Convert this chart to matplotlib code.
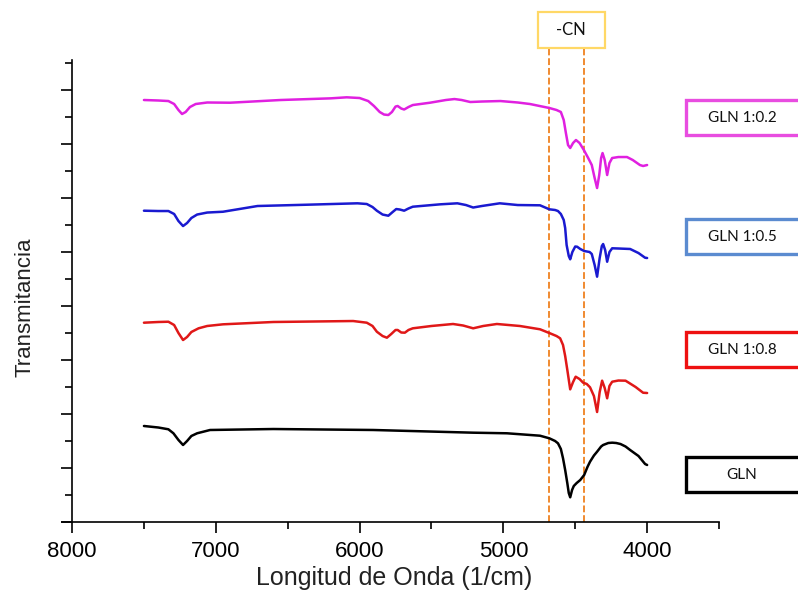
import matplotlib
matplotlib.use("Agg")
import matplotlib.pyplot as plt
from matplotlib.patches import Rectangle
from matplotlib.ticker import MultipleLocator, NullFormatter

plt.rcParams['font.family'] = ['Liberation Sans', 'DejaVu Sans']

# FTIR spectra (wavenumber in 1/cm, offset transmittance)
wn_02 = [7500, 7400, 7330, 7290, 7260, 7235, 7210, 7180, 7140, 7060, 6900, 6550,
         6200, 6090, 6000, 5940, 5900, 5860, 5830, 5800, 5775, 5750, 5735, 5710,
         5690, 5660, 5630, 5510, 5400, 5340, 5290, 5230, 5150, 5020, 4900, 4815,
         4680, 4630, 4600, 4580, 4565, 4550, 4535, 4515, 4495, 4470, 4440, 4410,
         4385, 4365, 4348, 4333, 4320, 4310, 4295, 4278, 4262, 4243, 4200, 4140,
         4100, 4050, 4028, 4000]
tr_02 = [7.815, 7.806, 7.796, 7.741, 7.630, 7.556, 7.593, 7.685, 7.741, 7.769, 7.765, 7.815,
         7.846, 7.865, 7.852, 7.796, 7.704, 7.593, 7.546, 7.537, 7.593, 7.694, 7.704, 7.657,
         7.639, 7.685, 7.722, 7.765, 7.815, 7.833, 7.815, 7.778, 7.787, 7.796, 7.769, 7.741,
         7.667, 7.630, 7.593, 7.444, 7.204, 6.981, 6.926, 7.019, 7.074, 7.019, 6.889, 6.741,
         6.611, 6.370, 6.185, 6.426, 6.741, 6.833, 6.704, 6.426, 6.648, 6.741, 6.759, 6.759,
         6.704, 6.611, 6.593, 6.611]

wn_05 = [7500, 7400, 7330, 7290, 7260, 7228, 7200, 7170, 7130, 7060, 6950, 6710,
         6365, 6015, 5950, 5910, 5880, 5840, 5800, 5770, 5745, 5720, 5690, 5660,
         5630, 5440, 5320, 5260, 5210, 5150, 5025, 4900, 4745, 4680, 4640, 4620,
         4600, 4580, 4570, 4560, 4545, 4535, 4520, 4500, 4487, 4465, 4438, 4400,
         4385, 4365, 4348, 4330, 4315, 4306, 4292, 4278, 4262, 4243, 4200, 4118,
         4060, 4014, 4000]
tr_05 = [5.765, 5.759, 5.759, 5.704, 5.574, 5.481, 5.537, 5.630, 5.694, 5.731, 5.746, 5.852,
         5.876, 5.902, 5.889, 5.833, 5.765, 5.694, 5.672, 5.741, 5.796, 5.787, 5.765, 5.806,
         5.839, 5.883, 5.902, 5.870, 5.824, 5.852, 5.902, 5.870, 5.865, 5.791, 5.778, 5.759,
         5.704, 5.593, 5.444, 5.130, 4.926, 4.865, 5.000, 5.102, 5.098, 5.056, 5.019, 5.000,
         4.963, 4.759, 4.543, 4.889, 5.111, 5.148, 5.037, 4.820, 5.000, 5.069, 5.065, 5.056,
         4.981, 4.894, 4.889]

wn_08 = [7500, 7400, 7330, 7290, 7260, 7228, 7200, 7170, 7120, 7060, 6950, 6600,
         6045, 5950, 5910, 5880, 5840, 5810, 5780, 5750, 5735, 5710, 5685, 5660,
         5630, 5500, 5350, 5280, 5210, 5140, 5045, 4885, 4745, 4675, 4630, 4605,
         4585, 4570, 4555, 4535, 4515, 4497, 4470, 4445, 4420, 4397, 4370, 4348,
         4330, 4313, 4295, 4278, 4262, 4243, 4200, 4150, 4080, 4028, 4000]
tr_08 = [3.691, 3.704, 3.709, 3.648, 3.500, 3.370, 3.426, 3.519, 3.587, 3.630, 3.661, 3.704,
         3.722, 3.691, 3.630, 3.524, 3.444, 3.413, 3.481, 3.556, 3.556, 3.509, 3.506, 3.556,
         3.587, 3.630, 3.667, 3.639, 3.587, 3.630, 3.667, 3.630, 3.569, 3.494, 3.444, 3.402,
         3.278, 3.074, 2.815, 2.457, 2.593, 2.691, 2.648, 2.580, 2.556, 2.494, 2.333, 2.037,
         2.407, 2.617, 2.481, 2.291, 2.519, 2.598, 2.620, 2.617, 2.500, 2.394, 2.389]

wn_gln = [7500, 7400, 7330, 7295, 7260, 7228, 7200, 7170, 7130, 7040, 6600, 5905,
          5210, 4975, 4745, 4680, 4640, 4620, 4600, 4585, 4570, 4555, 4545, 4535,
          4522, 4510, 4490, 4465, 4438, 4415, 4397, 4370, 4348, 4320, 4306, 4270,
          4243, 4215, 4185, 4150, 4118, 4060, 4014, 4000]
tr_gln = [1.778, 1.750, 1.717, 1.643, 1.519, 1.426, 1.500, 1.593, 1.643, 1.704, 1.722, 1.704,
          1.654, 1.643, 1.598, 1.550, 1.500, 1.457, 1.352, 1.180, 0.963, 0.717, 0.537, 0.457,
          0.593, 0.667, 0.722, 0.778, 0.870, 1.019, 1.117, 1.231, 1.302, 1.398, 1.426, 1.463,
          1.469, 1.463, 1.444, 1.398, 1.333, 1.222, 1.074, 1.056]

series = [
    ("GLN 1:0.2", wn_02, tr_02, "#e020e0", "#e84de0"),
    ("GLN 1:0.5", wn_05, tr_05, "#1a1ad0", "#5b8bd0"),
    ("GLN 1:0.8", wn_08, tr_08, "#e01818", "#ee1111"),
    ("GLN", wn_gln, tr_gln, "#000000", "#000000"),
]

# -CN band limits
cn_band = [4680, 4440]

fig = plt.figure(figsize=(7.98, 5.90), dpi=100)
ax = fig.add_axes([62 / 798, 68 / 590, 657 / 798, 462 / 590])

for name, wn, tr, col, _ in series:
    ax.plot(wn, tr, color=col, lw=1.8, solid_joinstyle="round", solid_capstyle="round")

ax.vlines(cn_band, 0, 8.76, colors="#f08a30", linestyles=(0, (3.5, 1.5)), lw=1.4,
          clip_on=False, zorder=1)

ax.set_xlim(8070, 3500)
ax.set_ylim(0, 8.556)
ax.spines["left"].set_position(("data", 8000))
ax.spines["top"].set_visible(False)
ax.spines["right"].set_visible(False)
for s in ("left", "bottom"):
    ax.spines[s].set_linewidth(1.2)

ax.xaxis.set_major_locator(MultipleLocator(1000))
ax.xaxis.set_minor_locator(MultipleLocator(500))
ax.yaxis.set_major_locator(MultipleLocator(1))
ax.yaxis.set_minor_locator(MultipleLocator(0.5))
ax.yaxis.set_major_formatter(NullFormatter())
ax.tick_params(which="major", length=8, width=1.2, direction="out", labelsize=16, pad=6)
ax.tick_params(which="minor", length=5, width=1.2, direction="out")
ax.tick_params(axis="y", which="both", labelleft=False)

fig.text(25 / 798, 1 - 307 / 590, "Transmitancia", rotation=90, ha="center", va="center",
         fontsize=16, color="#222222")
fig.text(394 / 798, 1 - 578 / 590, "Longitud de Onda (1/cm)", ha="center", va="center",
         fontsize=18, color="#222222")

# -CN annotation box
fig.add_artist(Rectangle((538 / 798, 1 - 48 / 590), 67 / 798, 36 / 590,
                         transform=fig.transFigure, fill=True, facecolor="white",
                         edgecolor="#ffd866", lw=1.6))
fig.text(571 / 798, 1 - 30 / 590, "-CN", ha="center", va="center", fontsize=12,
         family=["Lato", "DejaVu Sans"], color="#111111")

# Series label boxes
box_tops = [100, 219, 332, 457]
for (name, _, _, _, ecol), top in zip(series, box_tops):
    fig.add_artist(Rectangle((686 / 798, 1 - (top + 35) / 590), 130 / 798, 35 / 590,
                             transform=fig.transFigure, fill=True, facecolor="white",
                             edgecolor=ecol, lw=2.4))
    fig.text(742 / 798, 1 - (top + 18) / 590, name, ha="center", va="center", fontsize=11,
             family=["Lato", "DejaVu Sans"], color="#111111")

fig.savefig("out.png", dpi=100)
